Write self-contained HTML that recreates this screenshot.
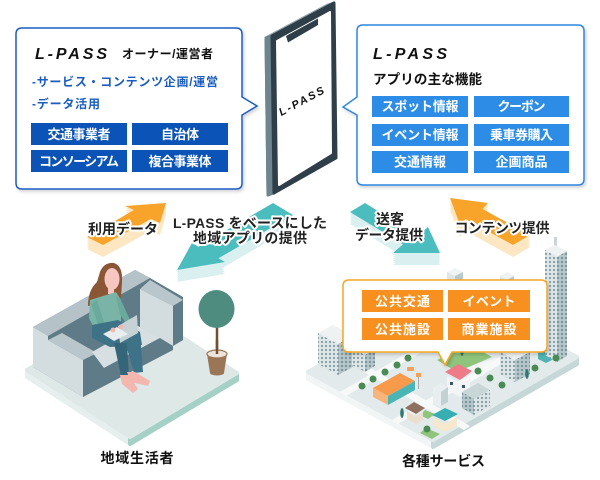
<!DOCTYPE html>
<html><head><meta charset="utf-8">
<style>
html,body{margin:0;padding:0;background:#fff;}
svg{display:block}
text{font-family:"Liberation Sans","Noto Sans CJK JP",sans-serif;font-weight:bold;}
.w{fill:#fff;font-size:13px}
.lbl{font-size:14px;fill:#222;stroke:#fff;stroke-width:4;paint-order:stroke;stroke-linejoin:round}
</style></head><body>
<svg width="600" height="480" viewBox="0 0 600 480">
<defs>
<filter id="sh" x="-10%" y="-10%" width="130%" height="130%"><feDropShadow dx="1.5" dy="2" stdDeviation="1.5" flood-color="#000" flood-opacity="0.18"/></filter>
<pattern id="win" width="4" height="4" patternUnits="userSpaceOnUse"><rect width="4" height="4" fill="#dbe4e6"/><rect x="1" y="1" width="2" height="2" fill="#8ea3a9"/></pattern>
<pattern id="win2" width="4" height="4" patternUnits="userSpaceOnUse"><rect width="4" height="4" fill="#b3c5c9"/><rect x="1" y="1" width="2" height="2" fill="#7d949b"/></pattern>
<polygon id="aA" points="87,237 134,210 125,206 166,203 160,223 151,219 103,245"/>
<polygon id="aB" points="273,203 293,215 218.5,258.3 225,262 177,270 192,243 198.5,246.7"/>
<polygon id="aC" points="365,203 418,235.6 428,227 440,253 393,253 403,244.4 350,212"/>
<polygon id="aD" points="450,198 488,203 482.5,209 530,235 513,245 465.5,219 460,225"/>
</defs>
<rect width="600" height="480" fill="#fff"/>

<!-- ===== Sofa scene ===== -->
<g stroke-linejoin="round">
<polygon points="27,370 130,437 237,373 237,380 130,444 27,377" fill="#e6efee" stroke="#e6efee" stroke-width="4"/>
<polygon points="130,437 237,373 237,380 130,444" fill="#a4d0c6" stroke="#a4d0c6" stroke-width="4"/>
<polygon points="27,370 134,306 237,373 130,437" fill="#dde8e7" stroke="#dde8e7" stroke-width="4"/>
</g>
<!-- plant -->
<line x1="217" y1="320" x2="217" y2="356" stroke="#6f5032" stroke-width="2.5"/>
<ellipse cx="216.5" cy="309" rx="18" ry="19" fill="#4e8c7f"/>
<polygon points="207,354 227,354 224,373 210,373" fill="#9a7656"/>
<ellipse cx="217" cy="373" rx="7" ry="2.5" fill="#9a7656"/>
<ellipse cx="217" cy="354" rx="10" ry="4" fill="#ece4da" stroke="#9a7656" stroke-width="1.2"/>
<line x1="217" y1="340" x2="217" y2="354" stroke="#6f5032" stroke-width="2.5"/>
<!-- sofa -->
<polygon points="33,327 135,270 150,278 183,297 183,340 83,397 33,367" fill="#5f7b87"/>
<polygon points="33,327 135,270 150,278 48,336" fill="#b5c2c7"/>
<polygon points="33,327 48,336 48,340 83,360 83,397 33,367" fill="#d3dcdf"/>
<polygon points="48,340 62,333 97,353 83,360" fill="#b9c6cb"/>
<polygon points="92,352 138,326 160,338 104,368" fill="#d7dfe2"/>
<polygon points="140,289 150,280 183,300 173,306" fill="#b9c6cb"/>
<polygon points="140,289 173,306 173,346 140,328" fill="#d3dcdf"/>
<polygon points="173,306 183,300 183,340 173,346" fill="#5f7b87"/>
<polygon points="104,368 160,338 173,346 173,350 83,397 83,372" fill="#5f7b87"/>
<!-- woman -->
<path d="M100,272 Q104,262 114,263 Q123,266 122,282 L121,298 L110,300 L88,306 Q88,290 97,282 Z" fill="#8a5636"/>
<ellipse cx="112" cy="279" rx="7.5" ry="11" fill="#f6c6c1"/>
<rect x="108" y="287" width="6" height="7" fill="#f6c6c1"/>
<polygon points="90,300 116,292 121,300 121,326 96,332 89,318" fill="#7ab4a7"/>
<polygon points="91,304 97,300 104,322 114,328 111,333 99,327" fill="#6aa99b"/>
<polygon points="116,296 121,300 130,320 127,325 120,314" fill="#6aa99b"/>
<polygon points="92,325 118,320 140,332 142,345 110,347 92,338" fill="#3e7286"/>
<polygon points="124,338 140,334 143,372 134,373" fill="#3e7286"/>
<polygon points="114,343 127,343 129,376 121,376" fill="#356579"/>
<polygon points="127,372 135,372 150,381 148,386 131,382" fill="#f3b7b0"/>
<polygon points="120,375 129,375 138,389 133,393 122,384" fill="#f3b7b0"/>
<polygon points="118,326 137,315 138,333 120,343" fill="#c6d2d5"/>
<polygon points="103,334 117,327 128,334 114,341" fill="#e8eef0"/>
<circle cx="113" cy="330" r="2.5" fill="#f3b7b0"/><circle cx="121" cy="327" r="2.5" fill="#f3b7b0"/>

<!-- ===== City ===== -->
<g stroke-linejoin="round">
<polygon points="308,372 433,440 577,357 577,364 433,447 308,379" fill="#f1f5f5" stroke="#f1f5f5" stroke-width="4"/>
<polygon points="433,440 577,357 577,364 433,447" fill="#c6d7d7" stroke="#c6d7d7" stroke-width="4"/>
<polygon points="308,372 452,289 577,357 433,440" fill="#e3eaeb" stroke="#e3eaeb" stroke-width="4"/>
</g>
<polygon points="340,392 440,334 446,338 346,396" fill="#f7f9f9"/>
<polygon points="392,420 502,356 508,360 398,424" fill="#f7f9f9"/>
<polygon points="370,368 470,426 464,430 364,372" fill="#f7f9f9"/>
<polygon points="455,370 560,340 565,345 460,375" fill="#f7f9f9" opacity="0.8"/>
<!-- park -->
<polygon points="437,360 470,345 492,357 457,372" fill="#8fc47c"/>
<!-- small boxes behind callout -->
<polygon points="447,272 455,268 463,272 455,276" fill="#f0f3f4"/>
<polygon points="447,272 455,276 455,284 447,280" fill="#dfe6e8"/>
<polygon points="455,276 463,272 463,280 455,284" fill="#b9c8cc"/>
<polygon points="500,276 507,272 514,276 507,280" fill="#eef2f3"/>
<polygon points="500,276 507,280 507,288 500,284" fill="#dfe6e8"/>
<polygon points="507,280 514,276 514,284 507,288" fill="#b9c8cc"/>
<!-- building A -->
<polygon points="318,333 333,325 353,336 338,344" fill="#eef2f3"/>
<polygon points="318,333 338,344 338,375 318,364" fill="url(#win)"/>
<polygon points="338,344 353,336 353,367 338,375" fill="url(#win2)"/>
<!-- building B -->
<polygon points="352,348 362,343 375,349 365,355" fill="#eef2f3"/>
<polygon points="352,348 365,355 365,372 352,365" fill="url(#win)"/>
<polygon points="365,355 375,349 375,366 365,372" fill="url(#win2)"/>
<!-- right building -->
<polygon points="500,352 515,344 530,352 515,360" fill="#eef2f3"/>
<polygon points="500,352 515,360 515,382 500,374" fill="url(#win)"/>
<polygon points="515,360 530,352 530,374 515,382" fill="url(#win2)"/>
<polygon points="538,352 548,347 556,351 556,358 546,363 538,359" fill="#4fb3b3"/>
<!-- tower -->
<rect x="554" y="237" width="3" height="14" fill="#c9d5d8"/>
<polygon points="545,250 555,245 567,251 557,257" fill="#eef2f3"/>
<polygon points="545,250 557,257 557,362 545,355" fill="url(#win)"/>
<polygon points="557,257 567,251 567,356 557,362" fill="url(#win2)"/>
<!-- orange store -->
<polygon points="373,388 400,373 415,381 388,396" fill="#f89a4b"/>
<polygon points="373,388 388,396 388,405 373,397" fill="#f6b57c"/>
<polygon points="388,396 415,381 415,390 388,405" fill="#4ab5b5"/>
<rect x="416" y="373" width="5" height="4" fill="#f5a05a"/><rect x="418" y="377" width="1" height="12" fill="#aaa"/>
<rect x="407" y="367" width="7" height="4" rx="1" fill="#f5a05a"/>
<!-- pink house -->
<polygon points="447,376 460,383 470,378 470,392 460,397 447,390" fill="#f2f4f5"/>
<rect x="450" y="382" width="3" height="3" fill="#3a5560"/><rect x="462" y="385" width="3" height="3" fill="#3a5560"/>
<polygon points="445,372 458,364 472,371 460,380" fill="#ee7b88"/>
<!-- white small building -->
<polygon points="433,388 441,383 448,387 448,402 440,407 433,403" fill="#e9eef0"/>
<polygon points="441,392 448,387 448,402 441,406" fill="#c3d0d3"/>
<!-- grey apartment -->
<polygon points="462,392 478,383 490,390 474,399" fill="#c8d6d8"/>
<polygon points="462,392 474,399 474,415 462,408" fill="url(#win2)"/>
<polygon points="474,399 490,390 490,406 474,415" fill="url(#win)"/>
<!-- houses -->
<polygon points="425,410 435,414 428,419 420,415" fill="#8fc47c"/>
<polygon points="407,411 416,416 423,412 423,420 416,424 407,419" fill="#eadfcf"/>
<polygon points="405,408 414,402 425,408 416,414" fill="#8f7060"/>
<polygon points="426,428 440,434 432,439 420,433" fill="#8fc47c"/>
<polygon points="434,418 445,424 457,417 457,426 445,432 434,426" fill="#f6e8cc"/>
<polygon points="432,415 445,408 458,414 445,421" fill="#37aeb2"/>
<!-- trees -->
<g fill="#4a8a55">
<circle cx="362" cy="386" r="3.5"/><circle cx="373" cy="379" r="3.5"/><circle cx="385" cy="372" r="3.5"/><circle cx="397" cy="365" r="3.5"/><circle cx="408" cy="358" r="3.5"/>
<circle cx="478" cy="371" r="3.5"/><circle cx="490" cy="378" r="3.5"/><circle cx="502" cy="385" r="3.5"/><circle cx="535" cy="368" r="3.5"/><circle cx="556" cy="358" r="3.5"/><circle cx="427" cy="429" r="3.5"/>
<ellipse cx="402" cy="413" rx="1.8" ry="5" fill="#2f7a70"/><ellipse cx="527" cy="374" rx="1.8" ry="5" fill="#2f7a70"/><ellipse cx="462" cy="351" rx="1.8" ry="5" fill="#2f7a70"/>
</g>
<!-- callout -->
<path filter="url(#sh)" d="M349,280 H541 Q547,280 547,286 V346 Q547,352 541,352 H452 L445,365 L438,352 H349 Q343,352 343,346 V286 Q343,280 349,280 Z" fill="#fff" stroke="#f5a522" stroke-width="1.5"/>
<g fill="#f7901f">
<rect x="362" y="290" width="81" height="22"/><rect x="448" y="290" width="82" height="22"/>
<rect x="362" y="318" width="81" height="22"/><rect x="448" y="318" width="82" height="22"/>
</g>
<text class="w" x="402.5" y="306" text-anchor="middle" textLength="55">公共交通</text>
<text class="w" x="489" y="306" text-anchor="middle" textLength="53">イベント</text>
<text class="w" x="402.5" y="334" text-anchor="middle" textLength="55">公共施設</text>
<text class="w" x="489" y="334" text-anchor="middle" textLength="55">商業施設</text>

<!-- ===== Arrows ===== -->
<g fill="#fde6c2">
<use href="#aA" transform="translate(0,2)"/><use href="#aA" transform="translate(0,4)"/><use href="#aA" transform="translate(0,6)"/><use href="#aA" transform="translate(0,8)"/><use href="#aA" transform="translate(0,10)"/><use href="#aA" transform="translate(0,12)"/>
<use href="#aD" transform="translate(0,2)"/><use href="#aD" transform="translate(0,4)"/><use href="#aD" transform="translate(0,6)"/><use href="#aD" transform="translate(0,8)"/><use href="#aD" transform="translate(0,10)"/><use href="#aD" transform="translate(0,12)"/>
</g>
<g fill="#daf0f0">
<use href="#aB" transform="translate(0,2)"/><use href="#aB" transform="translate(0,4)"/><use href="#aB" transform="translate(0,6)"/><use href="#aB" transform="translate(0,8)"/><use href="#aB" transform="translate(0,10)"/><use href="#aB" transform="translate(0,12)"/>
<use href="#aC" transform="translate(0,2)"/><use href="#aC" transform="translate(0,4)"/><use href="#aC" transform="translate(0,6)"/><use href="#aC" transform="translate(0,8)"/><use href="#aC" transform="translate(0,10)"/><use href="#aC" transform="translate(0,12)"/>
</g>
<use href="#aA" fill="#f8a42a"/>
<use href="#aD" fill="#f8a42a"/>
<use href="#aB" fill="#4bbdbe"/>
<use href="#aC" fill="#4bbdbe"/>
<text class="lbl" x="123" y="234" text-anchor="middle" textLength="70">利用データ</text>
<text class="lbl" x="250" y="228" text-anchor="middle" textLength="154">L-PASS をベースにした</text>
<text class="lbl" x="250" y="243" text-anchor="middle" textLength="114">地域アプリの提供</text>
<text class="lbl" x="390" y="224" text-anchor="middle" textLength="28">送客</text>
<text class="lbl" x="389" y="240" text-anchor="middle" textLength="68">データ提供</text>
<text class="lbl" x="502" y="233" text-anchor="middle" textLength="95">コンテンツ提供</text>

<!-- ===== Left box ===== -->
<path filter="url(#sh)" d="M22,28 H236 Q242,28 242,34 V97 L257,106 L242,115 V183 Q242,189 236,189 H22 Q16,189 16,183 V34 Q16,28 22,28 Z" fill="#fff" stroke="#1a5cc4" stroke-width="1.5"/>
<text x="35" y="59" font-size="16" font-style="italic" letter-spacing="3" fill="#111" textLength="75">L-PASS</text>
<text x="122" y="58" font-size="12" fill="#111" textLength="91">オーナー/運営者</text>
<text x="32" y="86" font-size="12" fill="#1a5cc0" textLength="186">-サービス・コンテンツ企画/運営</text>
<text x="32" y="108" font-size="12" fill="#1a5cc0" textLength="68">-データ活用</text>
<g fill="#0b53b6">
<rect x="31" y="123" width="96" height="22"/><rect x="132" y="123" width="96" height="22"/>
<rect x="31" y="150" width="96" height="22"/><rect x="132" y="150" width="96" height="22"/>
</g>
<text class="w" x="79" y="139" text-anchor="middle" textLength="63">交通事業者</text>
<text class="w" x="180" y="139" text-anchor="middle" textLength="38">自治体</text>
<text class="w" x="79" y="166" text-anchor="middle" textLength="80">コンソーシアム</text>
<text class="w" x="180" y="166" text-anchor="middle" textLength="63">複合事業体</text>

<!-- ===== Right box ===== -->
<path filter="url(#sh)" d="M363,25 H578 Q584,25 584,31 V179 Q584,185 578,185 H363 Q357,185 357,179 V115 L343,107 L357,97 V31 Q357,25 363,25 Z" fill="#fff" stroke="#2d86e2" stroke-width="1.5"/>
<text x="373" y="59" font-size="16" font-style="italic" letter-spacing="3" fill="#111" textLength="77">L-PASS</text>
<text x="373" y="84" font-size="13.5" fill="#111" textLength="109">アプリの主な機能</text>
<g fill="#2d8de6">
<rect x="372" y="96" width="96" height="21"/><rect x="474" y="96" width="95" height="21"/>
<rect x="372" y="124" width="96" height="22"/><rect x="474" y="124" width="95" height="22"/>
<rect x="372" y="151" width="96" height="22"/><rect x="474" y="151" width="95" height="22"/>
</g>
<text class="w" x="420" y="111" text-anchor="middle" textLength="77">スポット情報</text>
<text class="w" x="521.5" y="111" text-anchor="middle" textLength="48">クーポン</text>
<text class="w" x="420" y="139.5" text-anchor="middle" textLength="77">イベント情報</text>
<text class="w" x="521.5" y="139.5" text-anchor="middle" textLength="63">乗車券購入</text>
<text class="w" x="420" y="166.5" text-anchor="middle" textLength="52">交通情報</text>
<text class="w" x="521.5" y="166.5" text-anchor="middle" textLength="52">企画商品</text>

<!-- ===== Phone ===== -->
<g stroke-linejoin="round">
<polygon points="266,38 328,5 330,160 268,195" fill="#6e858f" stroke="#6e858f" stroke-width="3"/>
<polygon points="266,38 328,5 334,3 272,36" fill="#95a8b0" stroke="#95a8b0" stroke-width="3"/>
<polygon points="266,38 272,36 274,193 268,195" fill="#6e858f" stroke="#6e858f" stroke-width="3"/>
<polygon points="272,36 334,3 336,158 274,193" fill="#2f3f49" stroke="#2f3f49" stroke-width="3"/>
<polygon points="277,41 330,12 331,153 279,185" fill="#fff" stroke="#fff" stroke-width="2"/>
<polygon points="286,36 318,18.5 318,25 288,42.5" fill="#2f3f49"/>
</g>
<text transform="translate(304,104) rotate(-28)" text-anchor="middle" font-size="11" font-style="italic" letter-spacing="2" fill="#111">L-PASS</text>

<!-- ===== Bottom labels ===== -->
<text x="137" y="463" text-anchor="middle" font-size="14" fill="#111" textLength="73">地域生活者</text>
<text x="443.5" y="466" text-anchor="middle" font-size="14" fill="#111" textLength="83">各種サービス</text>
</svg>
</body></html>
